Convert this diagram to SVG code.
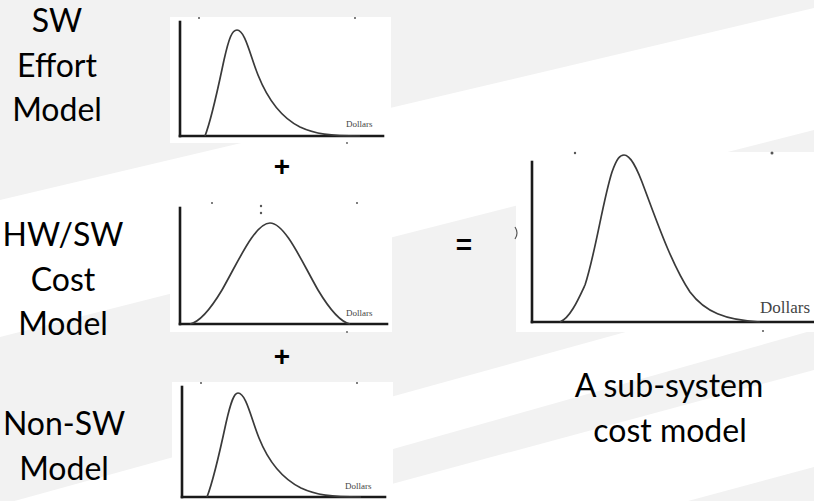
<svg xmlns="http://www.w3.org/2000/svg" width="814" height="501" viewBox="0 0 814 501">
  <defs>
    <style>
      .bg { fill: #f2f2f2; }
      .band { fill: #ffffff; }
      .panel { fill: #ffffff; }
      .axis { stroke: #1a1a1a; stroke-width: 2.6; fill: none; stroke-linecap: square; }
      .curve { stroke: #3a3a3a; stroke-width: 1.7; fill: none; }
      .tick { fill: #555555; }
      .mark { stroke: #555555; stroke-width: 1.2; fill: none; }
      .dollars { font-family: "Liberation Serif", serif; font-size: 9px; fill: #444444; }
      .label { font-family: Lato, "Noto Sans", sans-serif; font-size: 32px; fill: #000000; text-anchor: middle; }
      .op { font-family: "Liberation Sans", sans-serif; font-size: 28px; font-weight: bold; fill: #000000; text-anchor: middle; }
    </style>
  </defs>

  <!-- background -->
  <g id="background">
    <rect class="bg" x="0" y="0" width="814" height="501"/>
    <polygon class="band" points="0,200 814,8 814,130 0,337"/>
    <polygon class="band" points="0,505 814,280 814,330 0,560"/>
    <polygon class="band" points="329,501 814,370 814,467 688,501"/>
  </g>

  <!-- SW Effort Model -->
  <g id="sw-effort">
    <text class="label" x="57" y="32">SW</text>
    <text class="label" x="57" y="77">Effort</text>
    <text class="label" x="57" y="121">Model</text>
    <rect class="panel" x="170" y="17" width="221" height="126"/>
    <line class="axis" x1="180" y1="22" x2="180" y2="136"/>
    <line class="axis" x1="180" y1="136" x2="383" y2="136"/>
    <path class="curve" d="M205,136 C212,118 218,88 224,60 C229,38 232,30 237,30 C245,30 250,55 258,75 C268,100 282,118 300,127 C315,134 330,136 360,136"/>
    <text class="dollars" x="346" y="127">Dollars</text>
    <circle class="tick" cx="199" cy="18" r="1"/>
    <circle class="tick" cx="355" cy="18" r="1"/>
    <circle class="tick" cx="347" cy="143" r="0.9"/>
  </g>

  <!-- HW/SW Cost Model -->
  <g id="hwsw-cost">
    <text class="label" x="63" y="246">HW/SW</text>
    <text class="label" x="63" y="291">Cost</text>
    <text class="label" x="63" y="335">Model</text>
    <rect class="panel" x="170" y="200" width="222" height="132"/>
    <line class="axis" x1="180" y1="208" x2="180" y2="324"/>
    <line class="axis" x1="180" y1="324" x2="387" y2="324"/>
    <path class="curve" d="M190,324 C200,322 210,310 222,290 C238,262 255,223 270,223 C285,223 302,262 318,290 C330,310 340,322 350,324"/>
    <text class="dollars" x="346" y="316">Dollars</text>
    <circle class="tick" cx="261" cy="206" r="1.2"/>
    <circle class="tick" cx="261" cy="213" r="1.2"/>
    <circle class="tick" cx="212" cy="203" r="1"/>
    <circle class="tick" cx="357" cy="203" r="1"/>
    <circle class="tick" cx="347" cy="332" r="0.9"/>
  </g>

  <!-- Non-SW Model -->
  <g id="non-sw">
    <text class="label" x="64" y="435">Non-SW</text>
    <text class="label" x="64" y="480">Model</text>
    <rect class="panel" x="172" y="382" width="221" height="119"/>
    <line class="axis" x1="182" y1="387" x2="182" y2="497"/>
    <line class="axis" x1="182" y1="497" x2="385" y2="497"/>
    <path class="curve" d="M207,497 C214,479 220,451 226,423 C231,401 234,393 238,393 C246,393 251,418 259,438 C269,463 283,479 301,488 C316,495 331,497 361,497"/>
    <text class="dollars" x="345" y="489">Dollars</text>
    <circle class="tick" cx="201" cy="383" r="1"/>
    <circle class="tick" cx="357" cy="383" r="1"/>
  </g>

  <!-- Sub-system cost model -->
  <g id="subsystem">
    <rect class="panel" x="516" y="152" width="298" height="180"/>
    <line class="axis" x1="532" y1="162" x2="532" y2="322"/>
    <line class="axis" x1="532" y1="322" x2="814" y2="322"/>
    <path class="curve" d="M560,322 C570,318 578,300 585,285 C595,255 603,200 612,172 C617,158 620,155 624,155 C630,155 636,165 645,190 C657,222 672,265 690,292 C705,312 725,320 760,322"/>
    <text class="dollars" x="760" y="313" style="font-size:17px">Dollars</text>
    <circle class="tick" cx="575" cy="153" r="1.2"/>
    <circle class="tick" cx="772" cy="153" r="1.5"/>
    <circle class="tick" cx="763" cy="331" r="1"/>
    <path class="mark" d="M515,227 Q519,233 515,239"/>
    <text class="label" x="669" y="397">A sub-system</text>
    <text class="label" x="670" y="442">cost model</text>
  </g>

  <!-- operators -->
  <g id="connectors">
    <text class="op" x="282" y="176">+</text>
    <text class="op" x="282" y="366">+</text>
    <text class="op" x="464" y="254">=</text>
  </g>
</svg>
